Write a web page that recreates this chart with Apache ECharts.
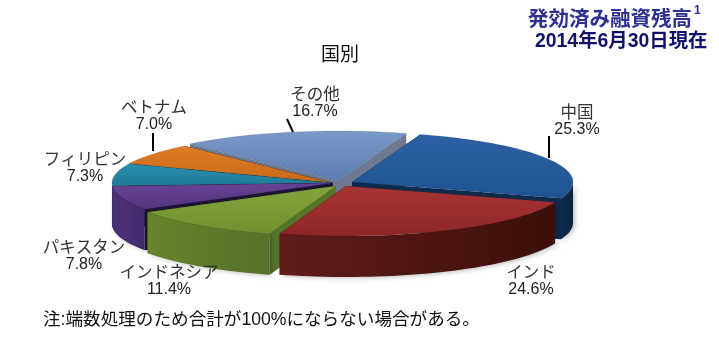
<!DOCTYPE html>
<html>
<head>
<meta charset="utf-8">
<style>
  html, body { margin: 0; padding: 0; background: #fff; }
  #chart { width: 719px; height: 356px; }
</style>
<script src="https://cdn.jsdelivr.net/npm/echarts@6/dist/echarts.min.js"></script>
</head>
<body>
<div id="chart"></div>
<script>
// data, clockwise from the start angle
const categories = ['中国', 'インド', 'インドネシア', 'パキスタン', 'フィリピン', 'ベトナム', 'その他'];
const shares = [25.3, 24.6, 11.4, 7.8, 7.3, 7.0, 16.7];

const chartTitle = '国別';
const headline = '発効済み融資残高';
const headlineNote = '1';
const asOfDate = '2014年6月30日現在';
const footnote = '注:端数処理のため合計が100%にならない場合がある。';

// pie shape
const centerX = 340;
const centerY = 183;
const radiusX = 221;
const radiusY = 50;
const depth = 41;
const startAngle = 18;

const sliceOffsets = [[12, -1], [6, 3], [-4, 3], [-7, 0], [-7, 0], [-7, 0], [-2, -2]];
const drawOrder = [4, 6, 5, 3, 2, 1, 0]; // painter's order per slice
const topColors = [
  ['#2c62a4', '#1f5391'], ['#a83434', '#8e2626'], ['#82a53a', '#6f9230'], ['#664296', '#553580'],
  ['#2b8fae', '#1f7a96'], ['#e07c22', '#c9691a'], ['#7c9ac8', '#5c7cb0']
];
const wallColors = [
  ['#0e2b4e', '#0b2340'], ['#601c1a', '#3c0f0b'], ['#64852c', '#547228'], ['#4e3278', '#41296a'],
  ['#1a6a80', '#1a6a80'], ['#a85a14', '#a85a14'], ['#6d7a92', '#6d7a92']
];
const cutColors = ['#0e2b4e', '#431310', '#55752a', '#1c1430', '#0e2a38', '#2a1a10', '#6d7a92'];
const labelPos = [[577, 120], [531, 280], [169, 280], [84, 255], [85, 167], [154, 115], [315, 102]];
const leaders = [[549, 136, 549, 158], [153, 133, 153, 151], [287, 119, 293, 132]];

const total = shares.reduce(function (a, b) { return a + b; }, 0);
const sliceAngles = [];
let running = startAngle;
shares.forEach(function (v) {
  const sweep = v / total * 360;
  sliceAngles.push([running, running + sweep]);
  running += sweep;
});

function rimPoint(ox, oy, deg, drop) {
  const t = deg * Math.PI / 180;
  return [ox + radiusX * Math.sin(t), oy - radiusY * Math.cos(t) + drop];
}

function arcPoints(ox, oy, from, to, drop) {
  const pts = [];
  const steps = Math.max(2, Math.ceil((to - from) / 2));
  for (let i = 0; i <= steps; i++) {
    pts.push(rimPoint(ox, oy, from + (to - from) * i / steps, drop));
  }
  return pts;
}

function renderSlice(params, api) {
  const i = params.dataIndex;
  const share = api.value(0);
  const a0 = sliceAngles[i][0];
  const a1 = a0 + share / total * 360;
  const ox = centerX + sliceOffsets[i][0];
  const oy = centerY + sliceOffsets[i][1];
  const z = drawOrder[i] + 1;
  const children = [];

  // cut faces first, the top surface hides the ones facing away
  [a0, a1].forEach(function (a) {
    const p = rimPoint(ox, oy, a, 0);
    children.push({
      type: 'polygon',
      z2: z * 10,
      shape: { points: [[ox, oy], p, [p[0], p[1] + depth], [ox, oy + depth]] },
      style: { fill: cutColors[i] }
    });
  });

  // outer wall, only the front half of the rim can be seen
  const w0 = Math.max(a0, 90);
  const w1 = Math.min(a1, 270);
  if (w1 > w0) {
    const topArc = arcPoints(ox, oy, w0, w1, 0);
    const bottomArc = arcPoints(ox, oy, w0, w1, depth).reverse();
    children.push({
      type: 'polygon',
      z2: z * 10 + 1,
      shape: { points: topArc.concat(bottomArc) },
      style: {
        fill: new echarts.graphic.LinearGradient(0, 0, 1, 0, [
          { offset: 0, color: wallColors[i][0] },
          { offset: 1, color: wallColors[i][1] }
        ]),
        shadowBlur: 5,
        shadowColor: 'rgba(0,0,0,0.25)',
        shadowOffsetX: 2,
        shadowOffsetY: 1
      }
    });
  }

  children.push({
    type: 'polygon',
    z2: z * 10 + 2,
    shape: { points: [[ox, oy]].concat(arcPoints(ox, oy, a0, a1, 0)) },
    style: {
      fill: new echarts.graphic.LinearGradient(0, 0, 0, 1, [
        { offset: 0, color: topColors[i][0] },
        { offset: 1, color: topColors[i][1] }
      ]),
      stroke: 'rgba(20,20,40,0.25)',
      lineWidth: 0.5
    }
  });

  return { type: 'group', children: children };
}

const graphics = [];
function addText(x, y, text, font, color, align) {
  graphics.push({
    type: 'text',
    x: x,
    y: y,
    z: 10,
    style: { text: text, font: font, fill: color, textAlign: align || 'left', textVerticalAlign: 'middle' }
  });
}

const jpFont = '"Noto Sans CJK JP", "Liberation Sans", sans-serif';
const latinFont = '"Liberation Sans", "Noto Sans CJK JP", sans-serif';

addText(340, 54, chartTitle, '19px ' + jpFont, '#111', 'center');
addText(528, 18, headline, 'bold 20.5px ' + jpFont, '#2e3192');
addText(694, 11, headlineNote, 'bold 12px ' + latinFont, '#2e3192');
addText(535, 42, asOfDate, 'bold 19.4px ' + latinFont, '#12126a');
addText(43, 320, footnote, '17.6px ' + latinFont, '#111');

categories.forEach(function (name, i) {
  addText(labelPos[i][0], labelPos[i][1] - 8, name, '16.5px ' + jpFont, '#333', 'center');
  addText(labelPos[i][0], labelPos[i][1] + 10, shares[i].toFixed(1) + '%', '16px ' + latinFont, '#222', 'center');
});

leaders.forEach(function (l) {
  graphics.push({
    type: 'line',
    z: 10,
    shape: { x1: l[0], y1: l[1], x2: l[2], y2: l[3] },
    style: { stroke: '#000', lineWidth: 2 }
  });
});

const chart = echarts.init(document.getElementById('chart'), null, { renderer: 'canvas' });
chart.setOption({
  backgroundColor: '#fff',
  animation: false,
  graphic: graphics,
  series: [{
    type: 'custom',
    coordinateSystem: 'none',
    silent: true,
    renderItem: renderSlice,
    data: shares.map(function (v) { return [v]; })
  }]
});
</script>
</body>
</html>
